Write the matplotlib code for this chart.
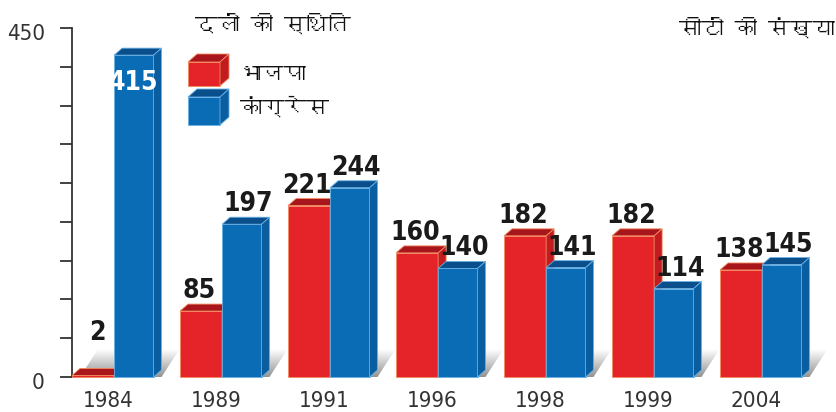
import numpy as np
import matplotlib
matplotlib.use('Agg')
import matplotlib.pyplot as plt
from matplotlib import font_manager
from matplotlib.font_manager import FontProperties
from matplotlib.patches import Polygon
from matplotlib.transforms import ScaledTranslation
from matplotlib.ft2font import FT2Font

# ---------------- data ----------------
years = ['1984', '1989', '1991', '1996', '1998', '1999', '2004']
bjp = [2, 85, 221, 160, 182, 182, 138]
congress = [415, 197, 244, 140, 141, 114, 145]
series_names = ['भाजपा', 'कांग्रेस']
title_left = 'दलों की स्थिति'
title_right = 'सीटों की संख्या'
y_ticks = [0, 50, 100, 150, 200, 250, 300, 350, 400, 450]
y_tick_labels = ['0', '', '', '', '', '', '', '', '', '450']

# ---------------- fonts ----------------
def find_font(cp):
    seen = set()
    for f in font_manager.fontManager.ttflist:
        if f.fname in seen:
            continue
        seen.add(f.fname)
        try:
            if cp in FT2Font(f.fname).get_charmap():
                return f.name
        except Exception:
            pass
    return None

deva = find_font(0x0915)
DEVA = [deva, 'DejaVu Sans'] if deva else ['DejaVu Sans']

narrow_reg = narrow_bold = None
for f in font_manager.fontManager.ttflist:
    n = f.fname.lower()
    if ('narrow' in n or 'condensed' in n) and 'mono' not in n and 'serif' not in n.replace('sans', ''):
        if 'italic' in n or 'oblique' in n:
            continue
        if 'bold' in n or f.weight in ('bold', 700):
            narrow_bold = narrow_bold or f.fname
        else:
            narrow_reg = narrow_reg or f.fname

if narrow_reg and narrow_bold:
    def fp(size, bold=False):
        return FontProperties(fname=narrow_bold if bold else narrow_reg, size=size)
    SCALE = 1.0
else:
    def fp(size, bold=False):
        return FontProperties(family='Liberation Sans', weight='bold' if bold else 'normal', size=size)
    SCALE = 0.82

# ---------------- geometry (pixel-based layout) ----------------
W, H = 837, 412
PX_X = 1 / 108.0          # data units per pixel along x
PX_Y = 450 / 349.0        # data units per pixel along y
DX = 8 * PX_X             # 3D depth
DY = 7 * PX_Y
WR, WB = 0.39, 0.365

def px(xp, yp):
    return (xp - 72) * PX_X, (377 - yp) * PX_Y

RED = dict(front='#E5242A', top='#A8161C', side='#C21B20', edge='#F58A5E')
BLUE = dict(front='#0B6CB6', top='#0A4F8C', side='#0A5EA0', edge='#67B1E6')

fig = plt.figure(figsize=(W / 100, H / 100), dpi=100)
ax = fig.add_axes([0, 0, 1, 1])


def cube(x0, w, y0, y1, c, z, dx=DX, dy=DY):
    top = [(x0, y1), (x0 + w, y1), (x0 + w + dx, y1 + dy), (x0 + dx, y1 + dy)]
    side = [(x0 + w, y0), (x0 + w + dx, y0 + dy), (x0 + w + dx, y1 + dy), (x0 + w, y1)]
    ax.add_patch(Polygon(top, closed=True, facecolor=c['top'], edgecolor=c['edge'], lw=0.6, zorder=z))
    ax.add_patch(Polygon(side, closed=True, facecolor=c['side'], edgecolor=c['edge'], lw=0.6, zorder=z))


def shadow(x0, x1):
    sx, sh = 18 * PX_X, 28 * PX_Y
    verts = [(x0 + DX, 0), (x1 + DX, 0), (x1 + DX + sx, sh), (x0 + DX + sx, sh)]
    poly = Polygon(verts, closed=True, facecolor='none', edgecolor='none')
    ax.add_patch(poly)
    grad = np.zeros((64, 2, 4))
    grad[..., :3] = 0.35
    grad[..., 3] = np.linspace(0.65, 0.0, 64)[:, None]
    im = ax.imshow(grad, extent=(x0 + DX, x1 + DX + sx, 0, sh), origin='lower',
                   aspect='auto', zorder=1, interpolation='bilinear')
    im.set_clip_path(poly)


x = np.arange(len(years))
red_bars = ax.bar(x, bjp, width=WR, align='edge', color=RED['front'],
                  edgecolor=RED['edge'], linewidth=0.6, zorder=3)
blue_bars = ax.bar(x + WR, congress, width=WB, align='edge', color=BLUE['front'],
                   edgecolor=BLUE['edge'], linewidth=0.6, zorder=4)

SH_H = 28 * PX_Y
GAP = 6 * PX_Y
for bars, c, z, shift in ((red_bars, RED, 3, -2 * PX_X), (blue_bars, BLUE, 4, 6 * PX_X)):
    for b in bars:
        x0, w, h = b.get_x(), b.get_width(), b.get_height()
        shadow(x0, x0 + w)
        cube(x0, w, 0, h, c, z)
        yl = max(h + DY + GAP, SH_H + 9 * PX_Y)
        if yl + 19 * PX_Y > 450:
            ax.text(x0 + w / 2, h - 35 * PX_Y, f'{int(h)}', ha='center', va='baseline',
                    fontproperties=fp(19 * SCALE, True), color='white', zorder=10)
        else:
            cx = x0 + w / 2 + (shift if h > 30 else DX / 2)
            ax.text(cx, yl, f'{int(h)}', ha='center', va='baseline',
                    fontproperties=fp(19 * SCALE, True), color='#1a1a1a', zorder=10)

# year labels
for i, yr in enumerate(years):
    ax.text(i + 0.335, -30 * PX_Y, yr, ha='center', va='baseline',
            fontproperties=fp(16 * SCALE), color='#333333')

# titles
tx, ty = px(195, 24)
ax.text(tx, ty, title_left, ha='left', va='center', family=DEVA, fontsize=16, color='#111111')
tx, ty = px(835, 28)
ax.text(tx, ty, title_right, ha='right', va='center', family=DEVA, fontsize=16, color='#111111')

# legend
for k, (c, name, ytop, ybot, yt) in enumerate(((RED, series_names[0], 62, 86, 75),
                                               (BLUE, series_names[1], 97, 125, 107))):
    lx0, ly1 = px(188, ytop)
    lx1, ly0 = px(220, ybot)
    ax.add_patch(Polygon([(lx0, ly0), (lx1, ly0), (lx1, ly1), (lx0, ly1)], closed=True,
                         facecolor=c['front'], edgecolor=c['edge'], lw=0.6, zorder=5))
    cube(lx0, lx1 - lx0, ly0, ly1, c, 5, dx=9 * PX_X, dy=8 * PX_Y)
    tx, ty = px(240, yt)
    ax.text(tx, ty, name, ha='left', va='center', family=DEVA, fontsize=16, color='#111111')

# axes styling
for s in ('top', 'right', 'bottom'):
    ax.spines[s].set_visible(False)
ax.spines['left'].set_position(('data', 0))
ax.spines['left'].set_bounds(0, 450)
ax.spines['left'].set_color('#333333')
ax.spines['left'].set_linewidth(1.3)
ax.set_yticks(y_ticks)
ax.set_yticklabels(y_tick_labels)
ax.tick_params(axis='y', direction='out', length=12 * 0.72, width=1.3, pad=15 * 0.72,
               colors='#333333')
for lab in ax.get_yticklabels():
    lab.set_fontproperties(fp(16 * SCALE))
    lab.set_transform(lab.get_transform() + ScaledTranslation(0, -4 / 100, fig.dpi_scale_trans))
ax.tick_params(axis='x', bottom=False, labelbottom=False)
ax.set_xlim(-72 * PX_X, (W - 72) * PX_X)
ax.set_ylim(-35 * PX_Y, 450 + 28 * PX_Y)
ax.patch.set_visible(False)
fig.patch.set_facecolor('white')

fig.savefig('out.png', dpi=100, facecolor='white')
